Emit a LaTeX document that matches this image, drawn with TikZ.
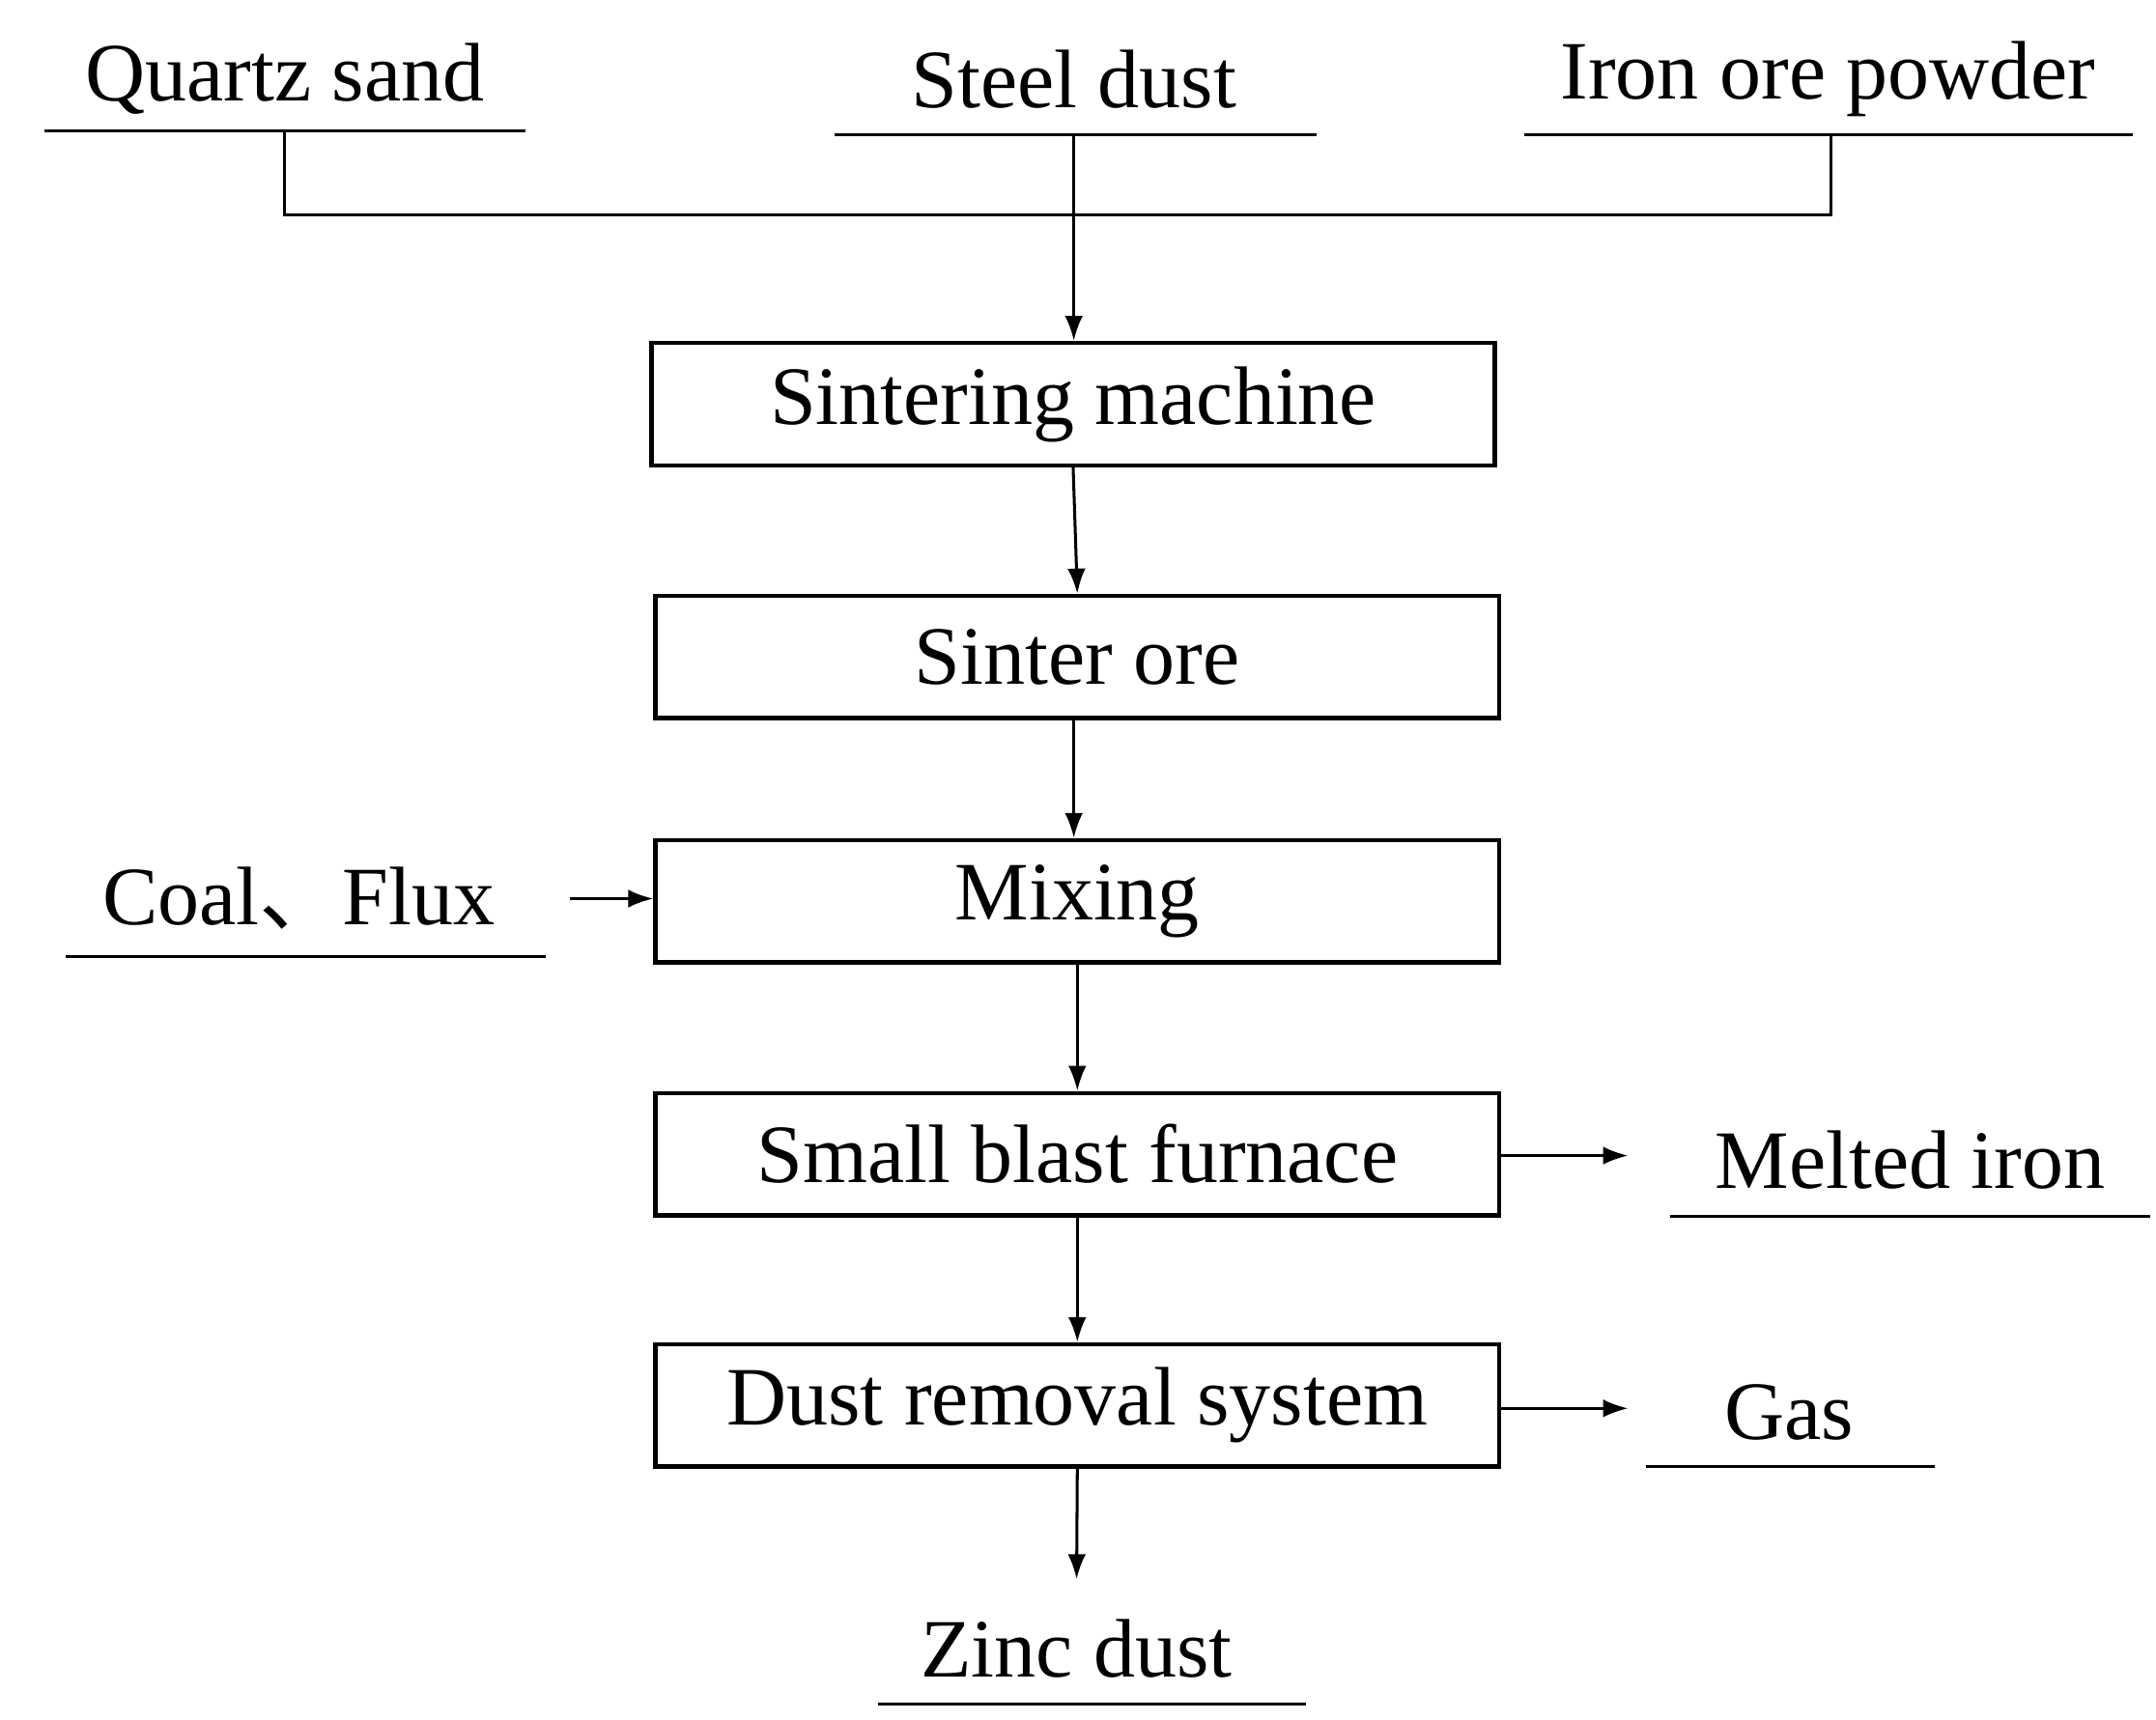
\documentclass[tikz,border=0pt]{standalone}
\usepackage{fontspec}
\setmainfont{Liberation Serif}
\newfontfamily\cjk{Noto Sans CJK SC}
\usetikzlibrary{arrows.meta}
\begin{document}
\begin{tikzpicture}[x=0.01cm,y=-0.01cm,
  txt/.style={font=\fontsize{17}{20}\selectfont,inner sep=0pt},
  box/.style={draw,line width=0.9pt,minimum width=6.07cm,minimum height=0.88cm,font=\fontsize{17}{20}\selectfont,inner sep=0pt},
  ul/.style={line width=0.6pt},
  arr/.style={line width=0.6pt,-{Latex[length=0.18cm,width=0.13cm]}},
  ln/.style={line width=0.6pt}]
\useasboundingbox (0,0) rectangle (1552,1238);
% inputs
\node[txt] (qs) at (205,57) {Quartz sand};
\draw[ul] (32,94) -- (378,94);
\coordinate (qsb) at (205,94);
\node[txt] (sd) at (773,57) {Steel dust};
\draw[ul] (601,97) -- (948,97);
\coordinate (sdb) at (773,97);
\node[txt] (io) at (1316,57) {Iron ore powder};
\draw[ul] (1097,97) -- (1535,97);
\coordinate (iob) at (1318,97);
% boxes
\node[box,minimum width=6.07cm] (sm) at (772.5,291) {Sintering machine};
\node[box] (so) at (775.5,473) {Sinter ore};
\node[box] (mx) at (775.5,649) {Mixing};
\node[box] (bf) at (775.5,831) {Small blast furnace};
\node[box] (dr) at (775.5,1012) {Dust removal system};
% side
\node[txt] (cf) at (215,647) {Coal{\cjk 、}Flux};
\draw[ul] (47,689) -- (393,689);
\coordinate (cfr) at (410,647);
\node[txt] (mi) at (1375,835) {Melted iron};
\draw[ul] (1202,876) -- (1548,876);
\coordinate (mil) at (1172,832);
\node[txt] (gs) at (1288,1017) {Gas};
\draw[ul] (1185,1056) -- (1393,1056);
\coordinate (gsl) at (1172,1014);
\node[txt] (zd) at (775,1187) {Zinc dust};
\draw[ul] (632,1227) -- (940,1227);
\coordinate (zdt) at (775,1137);
% connectors
\draw[ln] (qsb) -- (205,155) -- (1318,155) -- (iob);
\draw[arr] (sdb) -- (sm.north -| sdb);
\draw[arr] (sm.south) -- (so.north);
\draw[arr] (so.south -| 773,0) -- (mx.north -| 773,0);
\draw[arr] (mx.south) -- (bf.north);
\draw[arr] (bf.south) -- (dr.north);
\draw[arr] (dr.south) -- (zdt);
\draw[arr] (cfr) -- (mx.west |- cfr);
\draw[arr] (bf.east |- mil) -- (mil);
\draw[arr] (dr.east |- gsl) -- (gsl);
\end{tikzpicture}
\end{document}
